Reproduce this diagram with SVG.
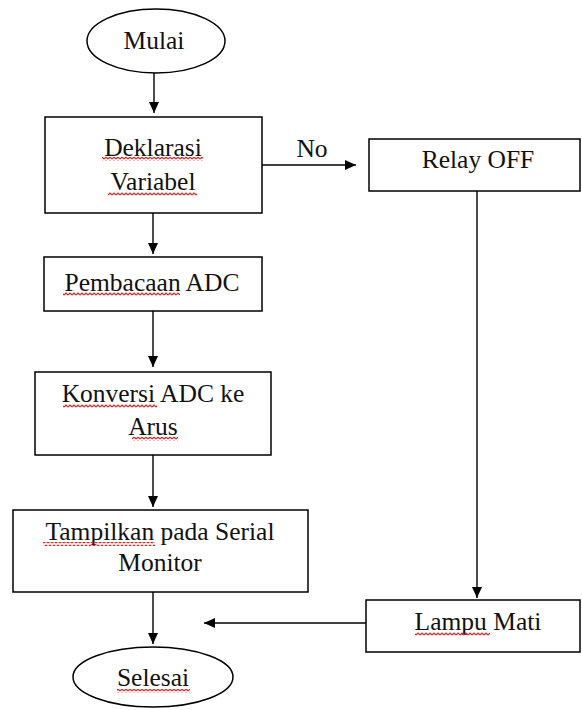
<svg xmlns="http://www.w3.org/2000/svg" width="582" height="710" viewBox="0 0 582 710">
  <style>
    .shape { fill: #fff; stroke: #000; stroke-width: 1.5; }
    .lbl { font-family: 'Liberation Serif', 'DejaVu Serif', serif; font-size: 25.5px; fill: #111; text-anchor: middle; }
    .edge { fill: none; stroke: #000; stroke-width: 1.4; marker-end: url(#arrow); }
    .squiggle { fill: url(#wave); }
  </style>
  <defs>
    <marker id="arrow" markerUnits="userSpaceOnUse" markerWidth="12" markerHeight="12" viewBox="0 0 12 12" refX="11" refY="6" orient="auto">
      <path d="M0,1 L11,6 L0,11 Z" fill="#000"/>
    </marker>
    <pattern id="wave" width="4" height="4" patternUnits="userSpaceOnUse">
      <path d="M0,3 L2,1 L4,3" fill="none" stroke="#e02020" stroke-width="1.2"/>
    </pattern>
  </defs>

  <rect width="582" height="710" fill="#fff"/>

  <!-- connectors -->
  <g id="connectors">
    <line class="edge" x1="154" y1="73" x2="154" y2="113"/>
    <line class="edge" x1="262" y1="165" x2="356" y2="165"/>
    <text class="lbl" x="312" y="157">No</text>
    <line class="edge" x1="153" y1="213" x2="153" y2="254"/>
    <line class="edge" x1="153" y1="311" x2="153" y2="367"/>
    <line class="edge" x1="153" y1="455" x2="153" y2="507"/>
    <line class="edge" x1="477" y1="191" x2="477" y2="598"/>
    <line class="edge" x1="366" y1="623" x2="204" y2="623"/>
    <line class="edge" x1="153" y1="592" x2="153" y2="644"/>
  </g>

  <!-- start -->
  <g id="mulai">
    <ellipse class="shape" cx="156" cy="41" rx="69" ry="32"/>
    <text class="lbl" x="154" y="49">Mulai</text>
  </g>

  <g id="deklarasi">
    <rect class="shape" x="45" y="117" width="217" height="96"/>
    <text class="lbl" x="153" y="156">Deklarasi</text>
    <text class="lbl" x="153" y="190">Variabel</text>
    <rect class="squiggle" x="102" y="157" width="101" height="4"/>
    <rect class="squiggle" x="108" y="192" width="89" height="4"/>
  </g>

  <g id="relay-off">
    <rect class="shape" x="369" y="139" width="211" height="52"/>
    <text class="lbl" x="478" y="168">Relay OFF</text>
  </g>

  <g id="pembacaan">
    <rect class="shape" x="44" y="257" width="218" height="54"/>
    <text class="lbl" x="152" y="291">Pembacaan ADC</text>
    <rect class="squiggle" x="63" y="292" width="117" height="4"/>
  </g>

  <g id="konversi">
    <rect class="shape" x="35" y="372" width="236" height="83"/>
    <text class="lbl" x="153" y="402">Konversi ADC ke</text>
    <text class="lbl" x="153" y="435">Arus</text>
    <rect class="squiggle" x="63" y="404" width="94" height="4"/>
    <rect class="squiggle" x="132" y="437" width="46" height="4"/>
  </g>

  <g id="tampilkan">
    <rect class="shape" x="13" y="510" width="295" height="82"/>
    <text class="lbl" x="160" y="540">Tampilkan pada Serial</text>
    <text class="lbl" x="160" y="571">Monitor</text>
    <rect class="squiggle" x="43" y="542" width="112" height="4"/>
  </g>

  <g id="lampu-mati">
    <rect class="shape" x="366" y="600" width="214" height="52"/>
    <text class="lbl" x="478" y="630">Lampu Mati</text>
    <rect class="squiggle" x="415" y="632" width="75" height="4"/>
  </g>

  <!-- end -->
  <g id="selesai">
    <ellipse class="shape" cx="153" cy="677" rx="80" ry="30"/>
    <text class="lbl" x="153" y="686">Selesai</text>
    <rect class="squiggle" x="117" y="689" width="73" height="4"/>
  </g>
</svg>
